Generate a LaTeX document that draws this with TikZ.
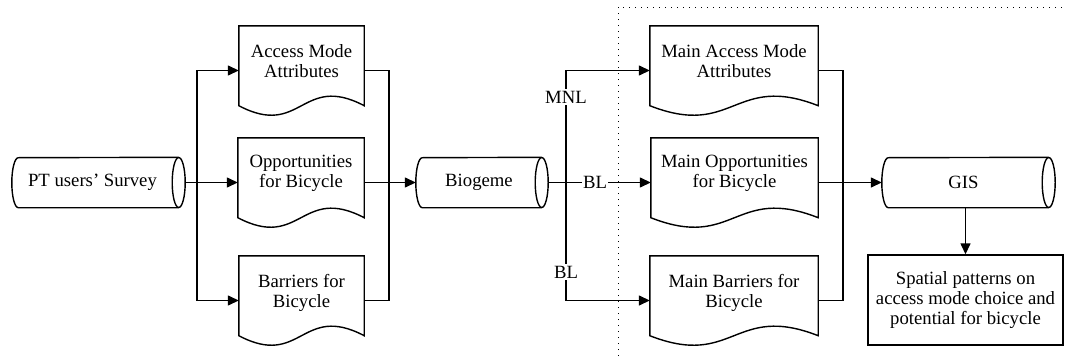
\documentclass[tikz,border=0pt]{standalone}
\usepackage{fontspec}
\setmainfont{Liberation Serif}
\usetikzlibrary{calc,arrows.meta}
\begin{document}
\begin{tikzpicture}[x=1pt,y=-1pt,
  every node/.style={font=\fontsize{18.7}{20}\selectfont},
  line/.style={line width=1.4pt, line join=miter},
  arr/.style={line, -{Triangle[length=11pt,width=10pt]}},
  docbox/.style={draw=none, minimum height=89pt, inner sep=0pt},
  cylbox/.style={draw=none, minimum height=50pt, inner sep=0pt},
  txt/.style={align=center, inner sep=0pt},
  lbl/.style={fill=white, inner sep=1.5pt},
  outbox/.style={line, draw, align=center, minimum width=195pt, minimum height=90pt, inner sep=0pt},
  sep/.style={line width=1pt, dash pattern=on 1pt off 5pt}
]
\useasboundingbox (0,0) rectangle (1065,356);

% cylinders
\node[cylbox, minimum width=173pt] (survey) at (98.5,182.5) {};
\node[cylbox, minimum width=132pt] (bio) at (482,182.5) {};
\node[cylbox, minimum width=173pt] (gis) at (968.5,182.5) {};
\foreach \n in {survey,bio,gis}{
  \draw[line] ($(\n.south east)+(-6.5,0)$) -- ($(\n.south west)+(6.5,0)$)
     arc[start angle=270, end angle=90, x radius=6.5pt, y radius=25pt]
     -- ($(\n.north east)+(-6.5,0)$);
  \draw[line] ($(\n.east)+(-6.5,0)$) ellipse[x radius=6.5pt, y radius=25pt];
}
\node[txt] (survey-t) at (92.5,182.5) {PT users’ Survey};
\node[txt] (bio-t) at (479,182.5) {Biogeme};
\node[txt] (gis-t) at (963.5,182.5) {GIS};

% documents
\node[docbox, minimum width=125pt] (acc) at (301.5,70.5) {};
\node[docbox, minimum width=126pt] (opp) at (301,182.5) {};
\node[docbox, minimum width=125pt] (bar) at (301.5,300.5) {};
\node[docbox, minimum width=168pt] (macc) at (734,70.5) {};
\node[docbox, minimum width=167pt] (mopp) at (734.5,182.5) {};
\node[docbox, minimum width=168pt] (mbar) at (734,300.5) {};
\foreach \n in {acc,opp,bar,macc,mopp,mbar}{
  \draw[line] (\n.north west) -- (\n.north east) -- ($(\n.south east)+(0,-9.5)$)
    .. controls ($(\n.south)+(0,-42.5)$) and ($(\n.south)+(0,23.5)$) ..
    ($(\n.south west)+(0,-9.5)$) -- cycle;
}
\node[txt] (acc-t) at ($(acc.center)+(0,-9)$) {Access Mode\\Attributes};
\node[txt] (opp-t) at ($(opp.center)+(0,-9)$) {Opportunities\\for Bicycle};
\node[txt] (bar-t) at ($(bar.center)+(0,-8)$) {Barriers for\\Bicycle};
\node[txt] (macc-t) at ($(macc.center)+(0,-9)$) {Main Access Mode\\Attributes};
\node[txt] (mopp-t) at ($(mopp.center)+(0,-9)$) {Main Opportunities\\for Bicycle};
\node[txt] (mbar-t) at ($(mbar.center)+(0,-8)$) {Main Barriers for\\Bicycle};

% output box
\node[outbox] (out) at (965.5,300) {Spatial patterns on\\access mode choice and\\potential for bicycle};

% separator
\coordinate (s1) at (618,356);
\coordinate (s2) at (618,7);
\coordinate (s3) at (1065,7);
\draw[sep] (s1) -- (s2) -- (s3);

% junctions
\coordinate (j1) at (197,182.5);
\coordinate (j2) at (389,182.5);
\coordinate (j3) at (566,182.5);
\coordinate (j4) at (843,182.5);

% connectors
\draw[arr] (survey.east) -- (opp.west);
\draw[arr] (j1) |- (acc.west);
\draw[arr] (j1) |- (bar.west);
\draw[line] (acc.east) -| (j2);
\draw[line] (bar.east) -| (j2);
\draw[arr] (opp.east) -- (bio.west);
\draw[arr] (bio.east) -- (mopp.west);
\draw[arr] (j3) |- (macc.west);
\draw[arr] (j3) |- (mbar.west);
\draw[line] (macc.east) -| (j4);
\draw[line] (mbar.east) -| (j4);
\draw[arr] (mopp.east) -- (gis.west);
\draw[arr] (gis.south -| out.north) -- (out.north);

% labels
\node[lbl] (mnl) at (566,97) {MNL};
\node[lbl] (bl1) at (595,182.5) {BL};
\node[lbl] (bl2) at (566,272) {BL};
\end{tikzpicture}
\end{document}
